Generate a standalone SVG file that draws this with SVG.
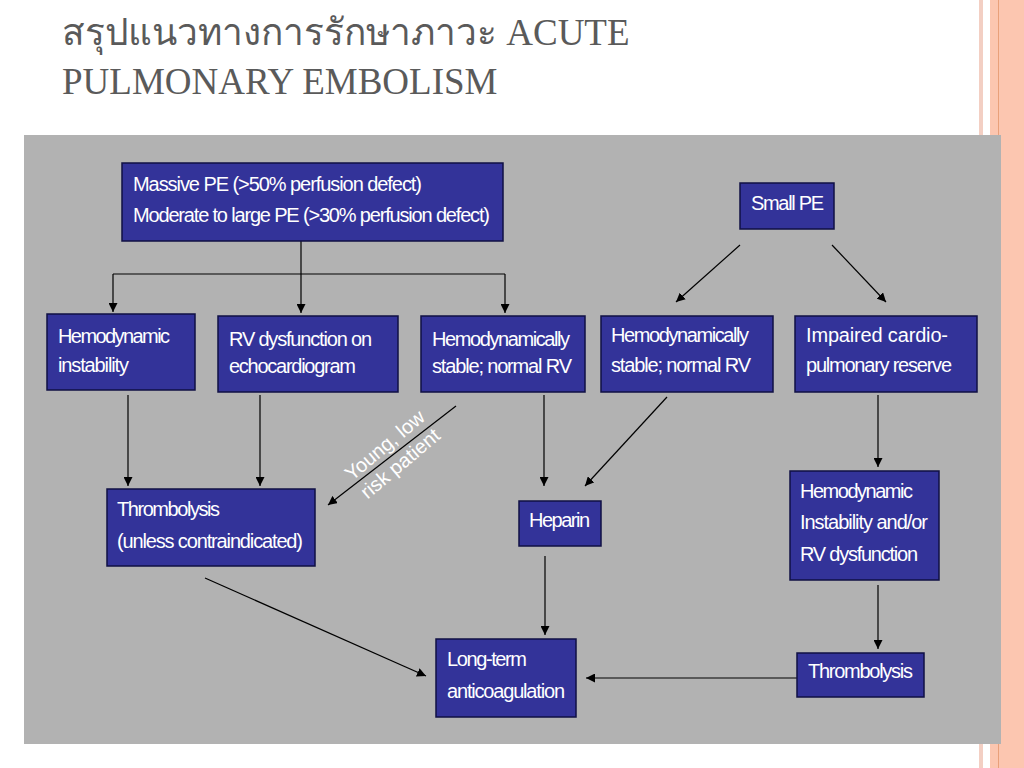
<svg xmlns="http://www.w3.org/2000/svg" width="1024" height="768" viewBox="0 0 1024 768">
<style>
.b{fill:#333399;stroke:#111144;stroke-width:1.5}
.s{fill:#2a2a2a}
.t{font-family:"Liberation Sans",Arial,sans-serif;font-size:20px;fill:#fff}
.c line,.c polyline{stroke:#000;stroke-width:1.2;fill:none}
.h{font-family:"Liberation Serif","Times New Roman",serif;font-size:37px;fill:#5a5a5a}
</style>
<defs><marker id="a" viewBox="0 0 10 10" refX="10" refY="5" markerWidth="9" markerHeight="9" markerUnits="userSpaceOnUse" orient="auto"><path d="M0,0L10,5L0,10z" fill="#000"/></marker></defs>
<rect width="1024" height="768" fill="#fff"/>
<rect x="979" y="0" width="4" height="768" fill="#f3cfc3"/>
<rect x="990" y="0" width="34" height="768" fill="#fcc6b0"/>
<line x1="998.5" y1="0" x2="998.5" y2="768" stroke="#e9a07a" stroke-width="1"/>
<text class="h" x="62" y="45" font-family="'Liberation Serif','Noto Sans',serif">สรุปแนวทางการรักษาภาวะ ACUTE</text>
<text class="h" x="62" y="94">PULMONARY EMBOLISM</text>
<rect x="24" y="135" width="977" height="609" fill="#b2b2b2"/>
<g class="c">
<polyline points="301,241 301,274"/><line x1="113" y1="274" x2="505" y2="274"/>
<line x1="113" y1="274" x2="113" y2="312" marker-end="url(#a)"/>
<line x1="301" y1="274" x2="301" y2="313" marker-end="url(#a)"/>
<line x1="505" y1="274" x2="505" y2="313" marker-end="url(#a)"/>
<line x1="740" y1="245" x2="676" y2="302" marker-end="url(#a)"/>
<line x1="832" y1="245" x2="886" y2="302" marker-end="url(#a)"/>
<line x1="128" y1="395" x2="128" y2="486" marker-end="url(#a)"/>
<line x1="260" y1="395" x2="260" y2="486" marker-end="url(#a)"/>
<line x1="544" y1="395" x2="544" y2="486" marker-end="url(#a)"/>
<line x1="878" y1="395" x2="878" y2="467" marker-end="url(#a)"/>
<line x1="878" y1="585" x2="878" y2="649" marker-end="url(#a)"/>
<line x1="456" y1="406" x2="328" y2="505" marker-end="url(#a)"/>
<line x1="667" y1="397" x2="585" y2="486" marker-end="url(#a)"/>
<line x1="545" y1="556" x2="545" y2="635" marker-end="url(#a)"/>
<line x1="205" y1="578" x2="426" y2="676" marker-end="url(#a)"/>
<line x1="797" y1="678" x2="586" y2="678" marker-end="url(#a)"/>
</g>
<text class="t" transform="translate(393,455) rotate(-40)" text-anchor="middle" font-size="18"><tspan x="0" y="-6">Young, low</tspan><tspan x="0" y="18">risk patient</tspan></text>
<g id="n1"><rect class="b" x="122" y="163" width="381" height="78"/><text class="t" x="133" y="191" textLength="289">Massive PE (&gt;50%  perfusion defect)</text><text class="t" x="133" y="222" textLength="357">Moderate to large PE (&gt;30% perfusion defect)</text></g>
<g id="n2"><rect class="b" x="740" y="183" width="94" height="46"/><text class="t" x="751" y="210" textLength="73">Small PE</text></g>
<g id="n3"><rect class="b" x="47" y="314" width="148" height="76"/><text class="t" x="58" y="343" textLength="112">Hemodynamic</text><text class="t" x="58" y="372" textLength="71">instability</text></g>
<g id="n4"><rect class="b" x="218" y="316" width="180" height="76"/><text class="t" x="229" y="346" textLength="143">RV dysfunction on</text><text class="t" x="229" y="373" textLength="127">echocardiogram</text></g>
<g id="n5"><rect class="b" x="421" y="316" width="164" height="76"/><text class="t" x="432" y="346" textLength="138">Hemodynamically</text><text class="t" x="432" y="373" textLength="140">stable; normal RV</text></g>
<g id="n6"><rect class="b" x="601" y="316" width="172" height="76"/><text class="t" x="611" y="342" textLength="138">Hemodynamically</text><text class="t" x="611" y="372" textLength="140">stable; normal RV</text></g>
<g id="n7"><rect class="b" x="795" y="316" width="182" height="76"/><text class="t" x="806" y="342" textLength="142">Impaired cardio-</text><text class="t" x="806" y="372" textLength="146">pulmonary reserve</text></g>
<g id="n8"><rect class="b" x="107" y="489" width="208" height="77"/><text class="t" x="117" y="516" textLength="103">Thrombolysis</text><text class="t" x="117" y="548" textLength="186">(unless contraindicated)</text></g>
<g id="n9"><rect class="b" x="519" y="501" width="82" height="45"/><text class="t" x="529" y="527" textLength="61">Heparin</text></g>
<g id="n10"><rect class="b" x="790" y="471" width="149" height="109"/><text class="t" x="800" y="498" textLength="113">Hemodynamic</text><text class="t" x="800" y="529" textLength="128">Instability and/or</text><text class="t" x="800" y="561" textLength="118">RV dysfunction</text></g>
<g id="n11"><rect class="b" x="436" y="639" width="140" height="78"/><text class="t" x="447" y="666" textLength="80">Long-term</text><text class="t" x="447" y="698" textLength="118">anticoagulation</text></g>
<g id="n12"><rect class="b" x="797" y="653" width="127" height="44"/><text class="t" x="808" y="678" textLength="105">Thrombolysis</text></g>
</svg>
